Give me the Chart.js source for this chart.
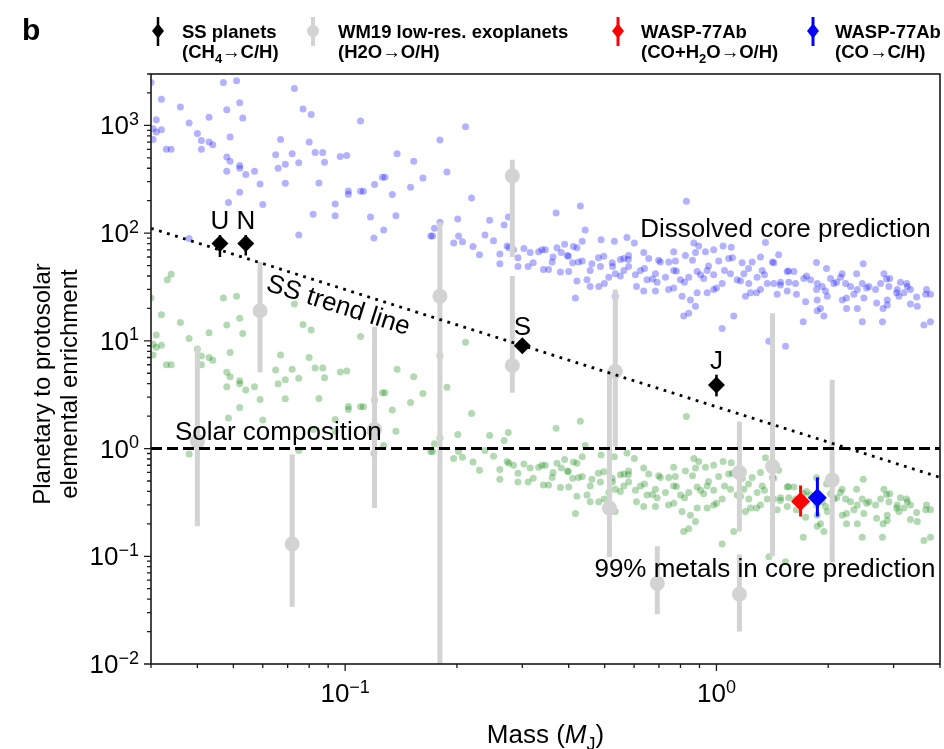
<!DOCTYPE html>
<html>
<head>
<meta charset="utf-8">
<script src="https://cdn.jsdelivr.net/npm/chart.js@4.4.1/dist/chart.umd.min.js"></script>
<style>
  html, body { margin: 0; padding: 0; background: #fff; }
  #chart { display: block; }
</style>
</head>
<body>
<canvas id="chart" width="944" height="749" style="width:944px;height:749px"></canvas>
<script>
const FONT = '"Liberation Sans", Arial, Helvetica, sans-serif';

// axis ranges and ticks
const xRange = [0.03, 4];
const yRange = [0.01, 3000];
const xMajor = [0.1, 1];
const xMajorExp = ["\u22121", "0"];
const yMajor = [0.01, 0.1, 1, 10, 100, 1000];
const yMajorExp = ["\u22122", "\u22121", "0", "1", "2", "3"];

// model planets (same masses for both predictions)
const modelMass = [
  0.030,0.047,0.051,0.073,0.032,0.036,0.048,0.052,0.077,0.081,
  0.031,0.043,0.053,0.038,0.110,0.0304,0.032,0.031,0.040,0.0304,
  0.041,0.043,0.044,0.049,0.067,0.080,0.180,0.211,0.033,0.034,
  0.041,0.048,0.049,0.052,0.052,0.048,0.054,0.057,0.072,0.065,
  0.083,0.087,0.075,0.069,0.066,0.097,0.101,0.088,0.138,0.153,
  0.188,0.162,0.126,0.128,0.120,0.150,0.059,0.069,0.085,0.102,
  0.102,0.110,0.112,0.134,0.219,0.052,0.060,0.0485,0.094,0.094,
  0.082,0.117,0.137,0.127,0.1195,0.075,0.038,0.170,0.172,0.180,
  0.174,0.201,0.202,0.196,0.207,0.221,0.230,0.238,0.245,0.251,
  0.268,0.275,0.273,0.276,0.261,0.261,0.284,0.292,0.292,0.303,
  0.311,0.321,0.315,0.332,
  0.430,0.83,0.370,0.443,0.435,0.489,0.531,0.574,0.601,1.355,
  0.869,0.896,1.042,1.096,1.47,0.372,0.390,0.412,0.421,0.339,
  0.363,0.382,0.397,0.410,0.342,0.353,0.400,0.435,0.462,0.497,
  0.487,0.524,0.551,0.563,0.580,0.637,0.657,0.699,0.744,0.775,
  0.767,0.825,0.878,0.934,0.983,1.014,1.079,1.173,1.248,1.314,
  1.427,1.551,1.616,1.86,2.18,2.485,2.825,2.93,3.13,3.33,
  3.66,3.77,0.421,0.448,0.457,0.482,0.513,0.534,0.563,0.580,
  0.605,0.624,0.650,0.685,0.692,0.729,0.767,0.800,0.842,0.887,
  0.924,0.944,0.983,1.036,1.091,1.137,1.185,1.222,1.287,1.328,
  1.370,1.427,1.488,1.566,1.633,1.719,1.792,1.868,1.927,1.967,
  2.029,2.071,2.159,2.227,2.297,2.395,2.47,2.574,2.683,2.767,
  2.913,3.069,3.198,3.266,0.417,0.534,0.637,0.685,0.767,0.808,
  0.851,0.887,0.944,0.983,1.197,1.235,1.314,1.457,1.551,1.738,
  1.868,1.988,2.182,2.345,2.495,2.884,3.10,3.33,3.475,2.81,
  2.884,2.24,2.395,1.906,1.868,1.947,1.713,2.47,2.80,3.62,
  3.77,0.816,0.842,0.878,1.113,1.036,1.384,1.535,
  0.0332,0.034,
  0.425,0.457,0.481,0.499,0.525,0.551,0.579,0.609,0.640,0.672,
  0.706,0.743,0.780,0.820,0.862,0.906,0.952,1.0,1.051,1.104,
  1.161,1.22,1.282,1.347,1.415,1.487,1.563,1.642,1.748,1.86,
  1.979,2.106,2.24,2.385,2.537,2.70,2.872,3.056,3.252,3.46,
  3.68,0.346,0.361,0.380,0.399
];

// dissolved core prediction (blue)
const dissolvedZ = [
  2500,2500,2600,2200,1750,1480,1400,1620,1420,1260,
  1130,1190,1170,1050,1100,930,910,870,840,740,
  725,700,660,780,740,700,730,970,600,600,
  600,510,465,425,400,375,350,375,545,535,
  560,560,450,435,400,515,525,455,545,465,
  370,325,330,330,282,267,286,290,292,246,
  230,245,245,228,212,240,184,192,186,145,
  150,141,145,107,90,96,89,94,94,126,
  111,135,94,81,83,75,63,96,132,85,
  119,141,76,73,64,52,70,59,49,72,
  49,53,66,67,
  179,198,154,107,84,87,84,91,81,82,
  81,76,76,74,63,73,79,75,73,70,
  60,66,62,53,46,46,44,55,52,61,
  49,53,57,58,62,66,58,56,54,55,
  67,62,66,67,70,55,58,53,54,60,
  53,44,44,53.5,42,52,42,38,35,30,
  27,27,36,37,32,32,39,42,45,49,
  41,45,37,42,35,39,45,37,39,44,
  38,45,41,34,42,37,42,34,39,45,
  34,34,35,35,34,38,37,34,32,29,
  38,34,39,34,32,30,34,32,30,34,
  32,30,28,32,25,26,29,29,31,26,
  24,28,28,30,26,28,30,27,29,23,
  24,26,24,27,25,24,26,22,21,20,
  21.5,20,20,20,19,17,15,15,15,14,
  15,17,18,21,17,13,9.9,8.9,
  3700,4150,
  54,45,59,34,49,40,57,32,47,37.5,
  54,30,44.5,35,56,41,49.5,31,45,59,
  36,47,28,41,54,33,44.5,27,40,30,
  47,35,25,42,31,22.5,37.5,28,34,25.5,
  30,70,54,43.5,61
];

// 99% metals in core prediction (green)
const coreZ = [
  25,25,26,22,17.5,14.8,14,16.2,14.2,12.6,
  11.3,11.9,11.7,10.5,11,9.3,9.1,8.7,8.4,7.4,
  7.25,7,6.6,7.8,7.4,7,7.3,9.7,6,6,
  6,5.1,4.65,4.25,4,3.75,3.5,3.75,5.45,5.35,
  5.6,5.6,4.5,4.35,4,5.15,5.25,4.55,5.45,4.65,
  3.7,3.25,3.3,3.3,2.82,2.67,2.86,2.9,2.92,2.46,
  2.3,2.45,2.45,2.28,2.12,2.4,1.84,1.92,1.86,1.45,
  1.5,1.41,1.45,1.07,0.9,0.96,0.89,0.94,0.94,1.26,
  1.11,1.35,0.94,0.81,0.83,0.75,0.63,0.96,1.32,0.85,
  1.19,1.41,0.76,0.73,0.64,0.52,0.7,0.59,0.49,0.72,
  0.49,0.53,0.66,0.67,
  1.79,1.98,1.54,1.07,0.84,0.87,0.84,0.91,0.81,0.82,
  0.81,0.76,0.76,0.74,0.63,0.73,0.79,0.75,0.73,0.7,
  0.6,0.66,0.62,0.53,0.46,0.46,0.44,0.55,0.52,0.61,
  0.49,0.53,0.57,0.58,0.62,0.66,0.58,0.56,0.54,0.55,
  0.67,0.62,0.66,0.67,0.7,0.55,0.58,0.53,0.54,0.6,
  0.53,0.44,0.44,0.535,0.42,0.52,0.42,0.38,0.35,0.3,
  0.27,0.27,0.36,0.37,0.32,0.32,0.39,0.42,0.45,0.49,
  0.41,0.45,0.37,0.42,0.35,0.39,0.45,0.37,0.39,0.44,
  0.38,0.45,0.41,0.34,0.42,0.37,0.42,0.34,0.39,0.45,
  0.34,0.34,0.35,0.35,0.34,0.38,0.37,0.34,0.32,0.29,
  0.38,0.34,0.39,0.34,0.32,0.3,0.34,0.32,0.3,0.34,
  0.32,0.3,0.28,0.32,0.25,0.26,0.29,0.29,0.31,0.26,
  0.24,0.28,0.28,0.3,0.26,0.28,0.3,0.27,0.29,0.23,
  0.24,0.26,0.24,0.27,0.25,0.24,0.26,0.22,0.21,0.2,
  0.215,0.2,0.2,0.2,0.19,0.17,0.15,0.15,0.15,0.14,
  0.15,0.17,0.18,0.21,0.17,0.13,0.099,0.089,
  37,41.5,
  0.54,0.45,0.59,0.34,0.49,0.40,0.57,0.32,0.47,0.375,
  0.54,0.30,0.445,0.35,0.56,0.41,0.495,0.31,0.45,0.59,
  0.36,0.47,0.28,0.41,0.54,0.33,0.445,0.27,0.40,0.30,
  0.47,0.35,0.25,0.42,0.31,0.225,0.375,0.28,0.34,0.255,
  0.30,0.70,0.54,0.435,0.61
];

// WM19 low-res exoplanets (H2O -> O/H)
const wmMass = [0.040, 0.059, 0.072, 0.120, 0.180, 0.282, 0.282, 0.534, 0.515, 0.693, 1.153, 1.153, 1.416, 2.05];
const wmVal  = [1.16, 19, 0.13, 1.5, 26, 340, 5.9, 5.2, 0.28, 0.056, 0.60, 0.0445, 0.68, 0.51];
const wmLo   = [0.19, 5.1, 0.034, 0.28, 0.009, 60, 3.3, 1.04, 0.098, 0.029, 0.17, 0.020, 0.10, 0.088];
const wmHi   = [8.8, 54, 0.88, 13.5, 126, 480, 40, 30, 5.4, 0.124, 1.78, 0.104, 18, 4.35];

// Solar System planets (CH4 -> C/H)
const ssNames = ["U", "N", "S", "J"];
const ssMass = [0.046, 0.054, 0.30, 1.0];
const ssVal  = [80, 80, 9.0, 3.9];
const ssLo   = [60, 62, 8.2, 3.05];
const ssHi   = [96, 96, 9.9, 4.85];

// WASP-77Ab
const wOMass = [1.685], wOVal = [0.323], wOLo = [0.234], wOHi = [0.454];
const wCMass = [1.87],  wCVal = [0.35],  wCLo = [0.234], wCHi = [0.54];

// reference lines
const trendMass = [0.03, 4];
const trendVal  = [111, 0.54];
const solarMass = [0.03, 4];
const solarVal  = [1, 1];

const pts = (xs, ys) => xs.map((x, i) => ({ x: x, y: ys[i] }));

function richWidth(ctx, parts, size, bold) {
  let w = 0;
  parts.forEach(([t, kind]) => {
    const s = (kind === "sub" || kind === "sup") ? Math.round(size * 0.68) : size;
    ctx.font = (kind === "it" ? "italic " : "") + (bold ? "bold " : "") + s + "px " + FONT;
    w += ctx.measureText(t).width;
  });
  return w;
}

function richText(ctx, parts, x, y, size, bold) {
  let cx = x;
  ctx.textAlign = "left";
  ctx.textBaseline = "alphabetic";
  parts.forEach(([t, kind]) => {
    const s = (kind === "sub" || kind === "sup") ? Math.round(size * 0.68) : size;
    ctx.font = (kind === "it" ? "italic " : "") + (bold ? "bold " : "") + s + "px " + FONT;
    const dy = kind === "sub" ? size * 0.25 : (kind === "sup" ? -size * 0.36 : 0);
    ctx.fillText(t, cx, y + dy);
    cx += ctx.measureText(t).width;
  });
}

function minorTicks(range) {
  const out = [];
  for (let d = 1e-3; d <= 1e4; d *= 10) {
    for (let k = 2; k <= 9; k++) {
      const v = Math.round(d * k * 1e6) / 1e6;
      if (v >= range[0] * 0.999 && v <= range[1] * 1.001) out.push(v);
    }
  }
  return out;
}

const legendItems = [
  { mx: 158, tx: 182, shape: "diamond", color: "#000000", bar: 2.5, line1: "SS planets",
    line2: [["(CH", "n"], ["4", "sub"], ["\u2192C/H)", "n"]] },
  { mx: 313, tx: 338, shape: "circle", color: "#d3d3d3", bar: 4, line1: "WM19 low-res. exoplanets",
    line2: [["(H2O\u2192O/H)", "n"]] },
  { mx: 618, tx: 641, shape: "diamond", color: "#ff0000", bar: 3, line1: "WASP-77Ab",
    line2: [["(CO+H", "n"], ["2", "sub"], ["O\u2192O/H)", "n"]] },
  { mx: 813, tx: 835, shape: "diamond", color: "#0000ff", bar: 3, line1: "WASP-77Ab",
    line2: [["(CO\u2192C/H)", "n"]] }
];

const decor = {
  id: "decor",
  beforeDatasetDraw(chart, args) {
    const ds = chart.data.datasets[args.index];
    if (!ds.errLo) return;
    const { x, y } = chart.scales;
    const a = chart.chartArea;
    const ctx = chart.ctx;
    ctx.save();
    ctx.beginPath();
    ctx.rect(a.left, a.top, a.right - a.left, a.bottom - a.top);
    ctx.clip();
    ctx.strokeStyle = ds.errColor;
    ctx.lineWidth = ds.errWidth;
    ctx.lineCap = "butt";
    ds.data.forEach((p, i) => {
      const px = x.getPixelForValue(p.x);
      ctx.beginPath();
      ctx.moveTo(px, y.getPixelForValue(ds.errLo[i]));
      ctx.lineTo(px, y.getPixelForValue(ds.errHi[i]));
      ctx.stroke();
    });
    ctx.restore();
  },
  afterDraw(chart) {
    const ctx = chart.ctx;
    const a = chart.chartArea;
    const { x, y } = chart.scales;
    ctx.save();

    // frame
    ctx.strokeStyle = "#1a1a1a";
    ctx.lineWidth = 1.6;
    ctx.strokeRect(a.left, a.top, a.right - a.left, a.bottom - a.top);

    // ticks (outward)
    ctx.lineWidth = 1.3;
    ctx.beginPath();
    xMajor.forEach(v => { const p = x.getPixelForValue(v); ctx.moveTo(p, a.bottom); ctx.lineTo(p, a.bottom + 7); });
    minorTicks(xRange).forEach(v => { const p = x.getPixelForValue(v); ctx.moveTo(p, a.bottom); ctx.lineTo(p, a.bottom + 4); });
    yMajor.forEach(v => { const p = y.getPixelForValue(v); ctx.moveTo(a.left, p); ctx.lineTo(a.left - 7, p); });
    minorTicks(yRange).forEach(v => { const p = y.getPixelForValue(v); ctx.moveTo(a.left, p); ctx.lineTo(a.left - 4, p); });
    ctx.stroke();

    // tick labels
    ctx.fillStyle = "#000";
    yMajor.forEach((v, i) => {
      const p = y.getPixelForValue(v);
      const parts = [["10", "n"], [yMajorExp[i], "sup"]];
      const w = richWidth(ctx, parts, 26, false);
      richText(ctx, parts, a.left - 12 - w, p + 9, 26, false);
    });
    xMajor.forEach((v, i) => {
      const p = x.getPixelForValue(v);
      const parts = [["10", "n"], [xMajorExp[i], "sup"]];
      const w = richWidth(ctx, parts, 26, false);
      richText(ctx, parts, p - w / 2, a.bottom + 38, 26, false);
    });

    // axis titles
    const xt = [["Mass (", "n"], ["M", "it"], ["J", "sub"], [")", "n"]];
    const xw = richWidth(ctx, xt, 26, false);
    richText(ctx, xt, (a.left + a.right) / 2 - xw / 2, 743, 26, false);

    ctx.save();
    ctx.translate(0, 384);
    ctx.rotate(-Math.PI / 2);
    ctx.font = "24px " + FONT;
    ctx.textAlign = "center";
    ctx.textBaseline = "alphabetic";
    ctx.fillText("Planetary to protosolar", 0, 50);
    ctx.fillText("elemental enrichment", 0, 77);
    ctx.restore();

    // planet labels
    ctx.font = "26px " + FONT;
    ctx.textAlign = "center";
    ssNames.forEach((n, i) => {
      ctx.fillText(n, x.getPixelForValue(ssMass[i]), y.getPixelForValue(ssHi[i]) - 6);
    });

    // annotations
    ctx.textAlign = "right";
    ctx.fillText("Dissolved core prediction", x.getPixelForValue(3.775), y.getPixelForValue(92));
    ctx.fillText("99% metals in core prediction", x.getPixelForValue(3.89), y.getPixelForValue(0.064));
    ctx.textAlign = "left";
    ctx.fillText("Solar composition", x.getPixelForValue(0.0348), y.getPixelForValue(1.19));

    const x0 = x.getPixelForValue(trendMass[0]), y0 = y.getPixelForValue(trendVal[0]);
    const x1 = x.getPixelForValue(trendMass[1]), y1 = y.getPixelForValue(trendVal[1]);
    const ang = Math.atan2(y1 - y0, x1 - x0);
    ctx.save();
    ctx.translate(x.getPixelForValue(0.0958), y.getPixelForValue(21.1));
    ctx.rotate(ang);
    ctx.textAlign = "center";
    ctx.textBaseline = "middle";
    ctx.fillText("SS trend line", 0, 0);
    ctx.restore();

    // panel letter
    ctx.font = "bold 30px " + FONT;
    ctx.textAlign = "left";
    ctx.textBaseline = "alphabetic";
    ctx.fillText("b", 22, 40);

    // legend
    legendItems.forEach(it => {
      ctx.strokeStyle = it.color;
      ctx.fillStyle = it.color;
      ctx.lineWidth = it.bar;
      ctx.beginPath();
      ctx.moveTo(it.mx, 17);
      ctx.lineTo(it.mx, 46);
      ctx.stroke();
      ctx.beginPath();
      if (it.shape === "circle") {
        ctx.arc(it.mx, 31, 6, 0, Math.PI * 2);
      } else {
        ctx.moveTo(it.mx, 23.5);
        ctx.lineTo(it.mx + 6, 31);
        ctx.lineTo(it.mx, 38.5);
        ctx.lineTo(it.mx - 6, 31);
        ctx.closePath();
      }
      ctx.fill();
      ctx.fillStyle = "#000";
      ctx.font = "bold 18.5px " + FONT;
      ctx.textAlign = "left";
      ctx.fillText(it.line1, it.tx, 38);
      richText(ctx, it.line2, it.tx, 58, 18.5, true);
    });

    ctx.restore();
  }
};

const ctx = document.getElementById("chart").getContext("2d");
const chart = new Chart(ctx, {
  type: "scatter",
  data: {
    datasets: [
      {
        label: "WASP-77Ab (CO+H2O)", data: pts(wOMass, wOVal), order: 0,
        pointStyle: "rectRot", pointRadius: 9.5, backgroundColor: "#ff0000", borderWidth: 0,
        errLo: wOLo, errHi: wOHi, errColor: "#ff0000", errWidth: 3
      },
      {
        label: "WASP-77Ab (CO)", data: pts(wCMass, wCVal), order: 1,
        pointStyle: "rectRot", pointRadius: 9.5, backgroundColor: "#0000ff", borderWidth: 0,
        errLo: wCLo, errHi: wCHi, errColor: "#0000ff", errWidth: 3
      },
      {
        label: "SS planets", data: pts(ssMass, ssVal), order: 2,
        pointStyle: "rectRot", pointRadius: 8.5, backgroundColor: "#000000", borderWidth: 0,
        errLo: ssLo, errHi: ssHi, errColor: "#000000", errWidth: 2.5
      },
      {
        label: "SS trend line", data: pts(trendMass, trendVal), order: 3,
        showLine: true, pointRadius: 0, borderColor: "#000", borderWidth: 2.8,
        borderDash: [2.8, 5.6], borderCapStyle: "butt"
      },
      {
        label: "Solar composition", data: pts(solarMass, solarVal), order: 4,
        showLine: true, pointRadius: 0, borderColor: "#000", borderWidth: 3,
        borderDash: [11, 5], borderCapStyle: "butt"
      },
      {
        label: "WM19 low-res. exoplanets", data: pts(wmMass, wmVal), order: 5,
        pointStyle: "circle", pointRadius: 7.5, backgroundColor: "#d3d3d3", borderWidth: 0,
        errLo: wmLo, errHi: wmHi, errColor: "#d3d3d3", errWidth: 5
      },
      {
        label: "99% metals in core", data: pts(modelMass, coreZ), order: 6,
        pointRadius: 3.5, backgroundColor: "rgba(0,128,0,0.3)", borderWidth: 0
      },
      {
        label: "Dissolved core", data: pts(modelMass, dissolvedZ), order: 7,
        pointRadius: 3.5, backgroundColor: "rgba(0,0,255,0.3)", borderWidth: 0
      }
    ]
  },
  options: {
    responsive: false,
    animation: false,
    devicePixelRatio: 1,
    events: [],
    layout: { autoPadding: false, padding: { top: 74, right: 4, left: 0, bottom: 0 } },
    plugins: { legend: { display: false }, tooltip: { enabled: false }, title: { display: false } },
    scales: {
      x: {
        type: "logarithmic", min: xRange[0], max: xRange[1],
        grid: { display: false }, border: { display: false }, ticks: { display: false },
        afterFit(s) { s.height = 85; }
      },
      y: {
        type: "logarithmic", min: yRange[0], max: yRange[1],
        grid: { display: false }, border: { display: false }, ticks: { display: false },
        afterFit(s) { s.width = 151; }
      }
    }
  },
  plugins: [decor]
});
</script>
</body>
</html>
